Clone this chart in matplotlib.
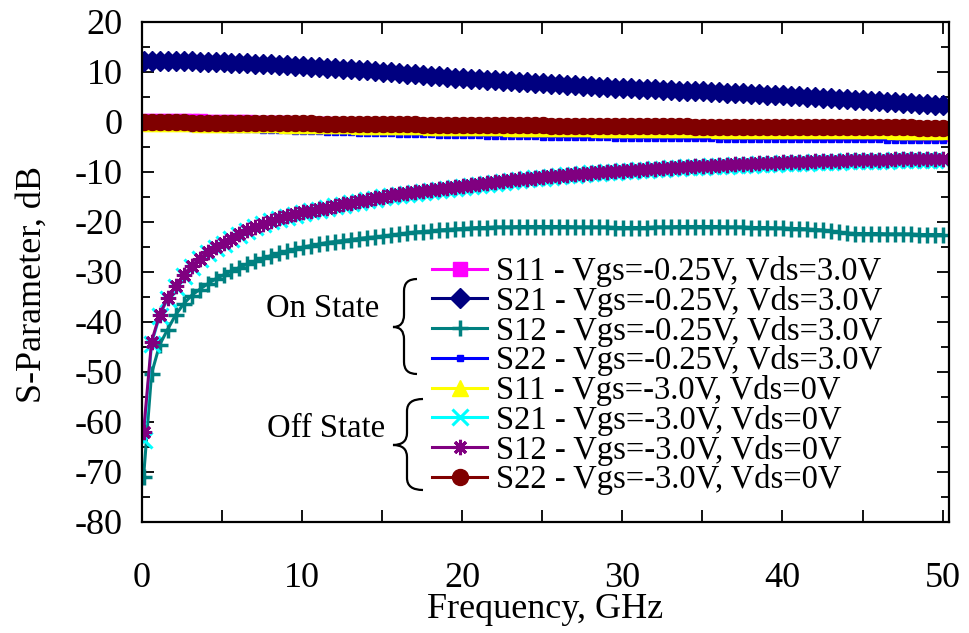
import numpy as np
import matplotlib
matplotlib.use("Agg")
import matplotlib.pyplot as plt
from matplotlib.path import Path
from matplotlib.patches import PathPatch
from matplotlib.ticker import MultipleLocator, FuncFormatter

plt.rcParams['font.family'] = ['Liberation Serif', 'DejaVu Serif']
plt.rcParams['axes.unicode_minus'] = False

# frequency sweep, GHz
freq = np.linspace(0.1, 50, 101)

# on state: Vgs=-0.25V, Vds=3.0V
s11_on = [0.3, 0.3, 0.3, 0.3, 0.2, 0.2, 0.2, 0.2, 0.1, 0.1,
          0.1, 0.0, 0.0, 0.0, -0.1, -0.1, -0.1, -0.2, -0.2, -0.3,
          -0.3, -0.3, -0.4, -0.4, -0.5, -0.5, -0.5, -0.6, -0.6, -0.7,
          -0.7, -0.7, -0.8, -0.8, -0.9, -0.9, -0.9, -1.0, -1.0, -1.0,
          -1.1, -1.1, -1.1, -1.2, -1.2, -1.2, -1.3, -1.3, -1.3, -1.4,
          -1.4, -1.4, -1.5, -1.5, -1.5, -1.5, -1.6, -1.6, -1.6, -1.6,
          -1.7, -1.7, -1.7, -1.7, -1.8, -1.8, -1.8, -1.8, -1.8, -1.9,
          -1.9, -1.9, -1.9, -1.9, -1.9, -2.0, -2.0, -2.0, -2.0, -2.0,
          -2.0, -2.0, -2.1, -2.1, -2.1, -2.1, -2.1, -2.1, -2.1, -2.2,
          -2.2, -2.2, -2.2, -2.2, -2.2, -2.2, -2.2, -2.3, -2.3, -2.3, -2.3]
s21_on = [12.3, 12.3, 12.3, 12.3, 12.2, 12.2, 12.2, 12.1, 12.1, 12.0,
          12.0, 11.9, 11.9, 11.8, 11.7, 11.7, 11.6, 11.5, 11.4, 11.3,
          11.2, 11.1, 11.0, 10.9, 10.8, 10.7, 10.6, 10.5, 10.4, 10.2,
          10.1, 10.0, 9.8, 9.7, 9.6, 9.4, 9.3, 9.2, 9.0, 8.9,
          8.8, 8.7, 8.6, 8.5, 8.4, 8.3, 8.2, 8.1, 8.0, 7.9,
          7.8, 7.7, 7.6, 7.5, 7.4, 7.3, 7.2, 7.1, 7.0, 6.9,
          6.9, 6.8, 6.7, 6.6, 6.6, 6.5, 6.4, 6.3, 6.3, 6.2,
          6.2, 6.1, 6.0, 5.9, 5.9, 5.8, 5.7, 5.6, 5.5, 5.5,
          5.4, 5.3, 5.2, 5.1, 5.0, 4.9, 4.8, 4.7, 4.6, 4.5,
          4.4, 4.3, 4.2, 4.1, 4.0, 3.9, 3.8, 3.7, 3.6, 3.5, 3.4]
s12_on = [-70.9, -50.3, -44.6, -41.5, -38.6, -36.4, -34.7, -33.5, -32.4, -31.4,
          -30.6, -29.8, -29.1, -28.4, -27.8, -27.2, -26.7, -26.2, -25.8, -25.4,
          -25.0, -24.7, -24.4, -24.1, -23.9, -23.7, -23.5, -23.3, -23.1, -23.0,
          -22.8, -22.6, -22.4, -22.2, -22.0, -21.9, -21.8, -21.6, -21.5, -21.4,
          -21.3, -21.2, -21.1, -21.1, -21.0, -21.0, -21.0, -20.9, -20.9, -20.9,
          -20.9, -20.9, -20.9, -20.9, -21.0, -21.0, -21.0, -21.0, -21.0, -21.1,
          -21.1, -21.1, -21.1, -21.1, -21.0, -21.0, -21.0, -20.9, -20.9, -20.9,
          -20.9, -20.9, -20.9, -21.0, -21.0, -21.0, -21.1, -21.1, -21.1, -21.2,
          -21.2, -21.3, -21.3, -21.4, -21.5, -21.6, -21.8, -22.0, -22.2, -22.3,
          -22.3, -22.3, -22.3, -22.4, -22.4, -22.4, -22.4, -22.5, -22.5, -22.5, -22.5]
s22_on = [-0.9, -0.9, -0.9, -1.0, -1.0, -1.0, -1.1, -1.1, -1.1, -1.2,
          -1.2, -1.3, -1.3, -1.4, -1.4, -1.5, -1.5, -1.6, -1.6, -1.7,
          -1.7, -1.8, -1.8, -1.9, -1.9, -2.0, -2.0, -2.1, -2.1, -2.2,
          -2.2, -2.2, -2.3, -2.3, -2.4, -2.4, -2.4, -2.5, -2.5, -2.5,
          -2.6, -2.6, -2.6, -2.7, -2.7, -2.7, -2.8, -2.8, -2.8, -2.8,
          -2.9, -2.9, -2.9, -2.9, -3.0, -3.0, -3.0, -3.0, -3.0, -3.1,
          -3.1, -3.1, -3.1, -3.1, -3.1, -3.2, -3.2, -3.2, -3.2, -3.2,
          -3.2, -3.2, -3.3, -3.3, -3.3, -3.3, -3.3, -3.3, -3.3, -3.3,
          -3.3, -3.4, -3.4, -3.4, -3.4, -3.4, -3.4, -3.4, -3.4, -3.4,
          -3.4, -3.4, -3.4, -3.5, -3.5, -3.5, -3.5, -3.5, -3.5, -3.5, -3.5]

# off state: Vgs=-3.0V, Vds=0V
s11_off = [-0.2, -0.2, -0.2, -0.2, -0.2, -0.2, -0.2, -0.3, -0.3, -0.3,
           -0.3, -0.3, -0.3, -0.4, -0.4, -0.4, -0.4, -0.4, -0.5, -0.5,
           -0.5, -0.5, -0.5, -0.6, -0.6, -0.6, -0.6, -0.7, -0.7, -0.7,
           -0.7, -0.7, -0.8, -0.8, -0.8, -0.8, -0.9, -0.9, -0.9, -0.9,
           -0.9, -1.0, -1.0, -1.0, -1.0, -1.0, -1.1, -1.1, -1.1, -1.1,
           -1.1, -1.2, -1.2, -1.2, -1.2, -1.2, -1.2, -1.3, -1.3, -1.3,
           -1.3, -1.3, -1.3, -1.3, -1.4, -1.4, -1.4, -1.4, -1.4, -1.4,
           -1.4, -1.4, -1.5, -1.5, -1.5, -1.5, -1.5, -1.5, -1.5, -1.5,
           -1.5, -1.5, -1.6, -1.6, -1.6, -1.6, -1.6, -1.6, -1.6, -1.6,
           -1.6, -1.6, -1.6, -1.6, -1.7, -1.7, -1.7, -1.7, -1.7, -1.7, -1.7]
s21_off = [-63.6, -44.3, -38.8, -35.3, -32.9, -30.7, -28.9, -27.4, -26.1, -25.1,
           -24.3, -23.4, -22.5, -21.7, -21.0, -20.4, -19.8, -19.3, -18.9, -18.5,
           -18.1, -17.8, -17.5, -17.2, -16.8, -16.5, -16.2, -15.9, -15.6, -15.3,
           -15.0, -14.7, -14.5, -14.3, -14.1, -13.9, -13.7, -13.5, -13.3, -13.1,
           -12.9, -12.7, -12.5, -12.3, -12.1, -11.9, -11.7, -11.5, -11.4, -11.2,
           -11.1, -10.9, -10.8, -10.6, -10.5, -10.4, -10.2, -10.1, -10.0, -9.9,
           -9.8, -9.7, -9.6, -9.5, -9.4, -9.3, -9.2, -9.1, -9.0, -8.9,
           -8.9, -8.8, -8.7, -8.7, -8.6, -8.5, -8.5, -8.4, -8.3, -8.3,
           -8.2, -8.2, -8.1, -8.1, -8.0, -8.0, -7.9, -7.9, -7.8, -7.8,
           -7.8, -7.7, -7.7, -7.7, -7.6, -7.6, -7.6, -7.6, -7.6, -7.6, -7.6]
s12_off = [-61.9, -43.9, -38.6, -35.2, -32.8, -30.6, -28.8, -27.3, -26.0, -25.0,
           -24.2, -23.3, -22.4, -21.6, -20.9, -20.3, -19.7, -19.2, -18.8, -18.4,
           -18.0, -17.7, -17.4, -17.1, -16.7, -16.4, -16.1, -15.8, -15.5, -15.2,
           -14.9, -14.6, -14.4, -14.2, -14.0, -13.8, -13.6, -13.4, -13.2, -13.0,
           -12.8, -12.6, -12.4, -12.2, -12.0, -11.8, -11.6, -11.4, -11.3, -11.1,
           -11.0, -10.8, -10.7, -10.5, -10.4, -10.3, -10.1, -10.0, -9.9, -9.8,
           -9.7, -9.6, -9.5, -9.4, -9.3, -9.2, -9.1, -9.0, -8.9, -8.8,
           -8.7, -8.7, -8.6, -8.5, -8.4, -8.4, -8.3, -8.2, -8.2, -8.1,
           -8.0, -8.0, -7.9, -7.9, -7.8, -7.8, -7.7, -7.7, -7.6, -7.6,
           -7.6, -7.5, -7.5, -7.5, -7.4, -7.4, -7.4, -7.3, -7.3, -7.3, -7.3]
s22_off = [0.0, 0.0, 0.0, 0.0, 0.0, 0.0, -0.1, -0.1, -0.1, -0.1,
           -0.1, -0.1, -0.1, -0.1, -0.2, -0.2, -0.2, -0.2, -0.2, -0.2,
           -0.2, -0.2, -0.3, -0.3, -0.3, -0.3, -0.3, -0.3, -0.4, -0.4,
           -0.4, -0.4, -0.4, -0.4, -0.4, -0.5, -0.5, -0.5, -0.5, -0.5,
           -0.5, -0.5, -0.5, -0.6, -0.6, -0.6, -0.6, -0.6, -0.6, -0.6,
           -0.6, -0.7, -0.7, -0.7, -0.7, -0.7, -0.7, -0.7, -0.7, -0.7,
           -0.8, -0.8, -0.8, -0.8, -0.8, -0.8, -0.8, -0.8, -0.8, -0.9,
           -0.9, -0.9, -0.9, -0.9, -0.9, -0.9, -0.9, -0.9, -0.9, -0.9,
           -0.9, -1.0, -1.0, -1.0, -1.0, -1.0, -1.0, -1.0, -1.0, -1.0,
           -1.0, -1.0, -1.0, -1.0, -1.0, -1.0, -1.0, -1.1, -1.1, -1.1, -1.1]

labels = ["S11 - Vgs=-0.25V, Vds=3.0V", "S21 - Vgs=-0.25V, Vds=3.0V",
          "S12 - Vgs=-0.25V, Vds=3.0V", "S22 - Vgs=-0.25V, Vds=3.0V",
          "S11 - Vgs=-3.0V, Vds=0V", "S21 - Vgs=-3.0V, Vds=0V",
          "S12 - Vgs=-3.0V, Vds=0V", "S22 - Vgs=-3.0V, Vds=0V"]
series = [s11_on, s21_on, s12_on, s22_on, s11_off, s21_off, s12_off, s22_off]
colors = ['#ff00ff', '#000080', '#008080', '#0000ff',
          '#ffff00', '#00ffff', '#800080', '#800000']
markers = ['s', 'D', '+', 's', '^', 'x', (8, 2, 0), 'o']
msizes = [9.5, 10, 12, 4, 11, 11, 11, 11.5]
mews = [1, 1, 2.5, 1, 1, 2.2, 2.2, 1]

W, H = 969, 633
fig = plt.figure(figsize=(W / 100, H / 100), dpi=100)
ax = fig.add_axes([142 / W, 1 - 522 / H, (949 - 142) / W, 500 / H])

for y, lab, c, m, ms, mew in zip(series, labels, colors, markers, msizes, mews):
    ax.plot(freq, y, color=c, lw=2.2, marker=m, markersize=ms,
            markeredgewidth=mew, markeredgecolor=c, label=lab)

ax.set_xlim(0, 50.4)
ax.set_ylim(-80, 20)
ax.xaxis.set_major_locator(MultipleLocator(5))
ax.xaxis.set_major_formatter(FuncFormatter(lambda v, p: f"{v:.0f}" if v % 10 == 0 else ""))
ax.yaxis.set_major_locator(MultipleLocator(10))
ax.yaxis.set_minor_locator(MultipleLocator(5))
ax.tick_params(which='both', direction='in', top=True, right=True, width=1.3)
ax.tick_params(which='major', length=8.5)
ax.tick_params(which='minor', length=6)
ax.tick_params(axis='x', labelsize=26, pad=29)
ax.tick_params(axis='y', labelsize=26, pad=14)
for sp in ax.spines.values():
    sp.set_linewidth(1.6)

ax.set_xlabel("Frequency, GHz", fontsize=26, va='top')
ax.set_ylabel("S-Parameter, dB", fontsize=26)
ax.xaxis.set_label_coords(0.5, -0.142)
ax.yaxis.set_label_coords(-0.115, 0.475)

ax.legend(loc='upper left', bbox_to_anchor=(432 / W, 1 - 256 / H),
          bbox_transform=fig.transFigure, frameon=False, fontsize=23.5,
          numpoints=1, handlelength=1.7, handletextpad=0.25,
          labelspacing=-0.038, borderpad=0, borderaxespad=0)


def px(x, y):
    return (x / W, 1 - y / H)


def brace(x_end, x_v, x_tip, y_top, y_mid, y_bot, r=12):
    verts = [px(x_end, y_top), px(x_v, y_top), px(x_v, y_top + r),
             px(x_v, y_mid - r), px(x_v, y_mid), px(x_tip, y_mid),
             px(x_v, y_mid), px(x_v, y_mid + r),
             px(x_v, y_bot - r), px(x_v, y_bot), px(x_end, y_bot)]
    codes = [Path.MOVETO, Path.CURVE3, Path.CURVE3,
             Path.LINETO, Path.CURVE3, Path.CURVE3,
             Path.CURVE3, Path.CURVE3,
             Path.LINETO, Path.CURVE3, Path.CURVE3]
    fig.patches.append(PathPatch(Path(verts, codes), transform=fig.transFigure,
                                 fill=False, lw=1.6, color='black'))


brace(417, 404, 393, 279, 327, 374)
brace(423, 407, 393, 399, 445, 490)
fig.text(*px(323, 309), "On State", fontsize=23.5, ha='center', va='center')
fig.text(*px(326, 429), "Off State", fontsize=23.5, ha='center', va='center')

fig.savefig("out.png", dpi=100)
